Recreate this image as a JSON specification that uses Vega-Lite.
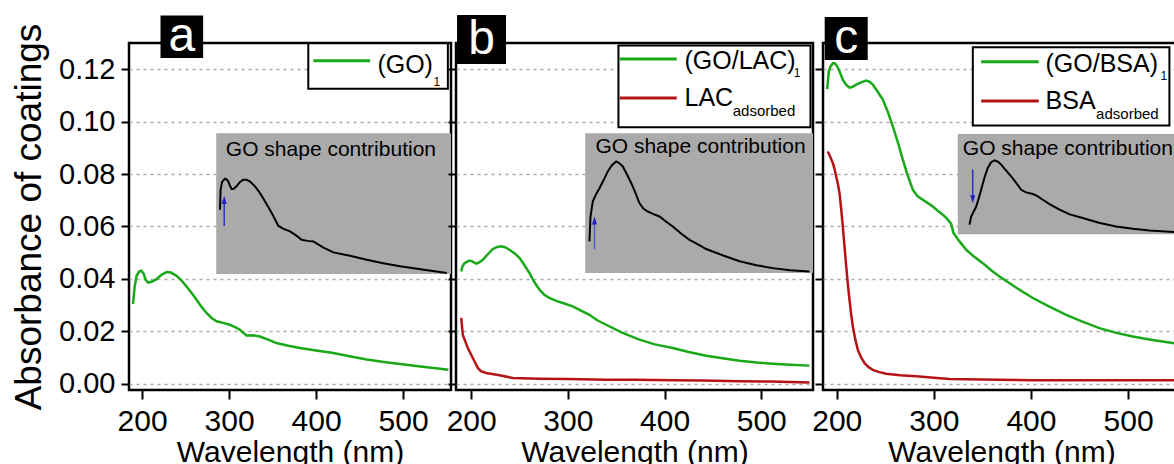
{
  "$schema": "https://vega.github.io/schema/vega-lite/v6.json",
  "autosize": "none",
  "padding": {"left": 129, "top": 43, "right": 1045, "bottom": 421},
  "config": {
    "font": "Liberation Sans",
    "view": {"stroke": "black", "strokeWidth": 2.5},
    "axis": {"labelColor": "black", "titleColor": "black", "tickColor": "black", "titleFontWeight": "normal", "domain": false, "tickWidth": 2},
    "axisX": {"grid": false, "tickSize": 9, "tickCount": 4, "labelFontSize": 30, "labelPadding": 7, "titleFontSize": 30, "titlePadding": 1, "labelFlush": false},
    "axisY": {"grid": true, "gridColor": "#aaaaaa", "gridDash": [3, 4], "gridWidth": 1.5, "tickSize": 8, "tickCount": 7, "format": ".2f", "labelFontSize": 29, "labelPadding": 6, "titleFontSize": 37, "titlePadding": 10}
  },
  "datasets": {
    "spectra": [
      {"panel":"a","series":"film","wl":189.6,"abs":0.0305},{"panel":"a","series":"film","wl":191.5,"abs":0.037},{"panel":"a","series":"film","wl":193.6,"abs":0.041},{"panel":"a","series":"film","wl":196.5,"abs":0.0428},{"panel":"a","series":"film","wl":199.3,"abs":0.0431},{"panel":"a","series":"film","wl":202,"abs":0.0418},{"panel":"a","series":"film","wl":204,"abs":0.0397},{"panel":"a","series":"film","wl":206.9,"abs":0.0386},{"panel":"a","series":"film","wl":211,"abs":0.0389},{"panel":"a","series":"film","wl":216.6,"abs":0.0399},{"panel":"a","series":"film","wl":222,"abs":0.0415},{"panel":"a","series":"film","wl":228.1,"abs":0.0426},{"panel":"a","series":"film","wl":233,"abs":0.0424},{"panel":"a","series":"film","wl":239.6,"abs":0.0412},{"panel":"a","series":"film","wl":245,"abs":0.0395},{"panel":"a","series":"film","wl":251.1,"abs":0.0371},{"panel":"a","series":"film","wl":257,"abs":0.0346},{"panel":"a","series":"film","wl":262.6,"abs":0.032},{"panel":"a","series":"film","wl":268,"abs":0.0295},{"panel":"a","series":"film","wl":274.1,"abs":0.027},{"panel":"a","series":"film","wl":280,"abs":0.0251},{"panel":"a","series":"film","wl":285.6,"abs":0.0238},{"panel":"a","series":"film","wl":293,"abs":0.0232},{"panel":"a","series":"film","wl":300.9,"abs":0.0225},{"panel":"a","series":"film","wl":307,"abs":0.0216},{"panel":"a","series":"film","wl":312.4,"abs":0.0206},{"panel":"a","series":"film","wl":316,"abs":0.0195},{"panel":"a","series":"film","wl":320.1,"abs":0.0184},{"panel":"a","series":"film","wl":327,"abs":0.0185},{"panel":"a","series":"film","wl":335.4,"abs":0.018},{"panel":"a","series":"film","wl":345,"abs":0.0168},{"panel":"a","series":"film","wl":354.6,"abs":0.0155},{"panel":"a","series":"film","wl":368,"abs":0.0145},{"panel":"a","series":"film","wl":381.5,"abs":0.0136},{"panel":"a","series":"film","wl":400,"abs":0.0127},{"panel":"a","series":"film","wl":419.8,"abs":0.0117},{"panel":"a","series":"film","wl":440,"abs":0.0104},{"panel":"a","series":"film","wl":458.2,"abs":0.0092},{"panel":"a","series":"film","wl":478,"abs":0.0083},{"panel":"a","series":"film","wl":496.5,"abs":0.0075},{"panel":"a","series":"film","wl":520,"abs":0.0066},{"panel":"a","series":"film","wl":540,"abs":0.0058},{"panel":"a","series":"film","wl":552,"abs":0.0053},
      {"panel":"b","series":"film","wl":189.7,"abs":0.0428},{"panel":"b","series":"film","wl":191,"abs":0.0448},{"panel":"b","series":"film","wl":193.1,"abs":0.046},{"panel":"b","series":"film","wl":198.2,"abs":0.047},{"panel":"b","series":"film","wl":201,"abs":0.0467},{"panel":"b","series":"film","wl":205.2,"abs":0.0458},{"panel":"b","series":"film","wl":208,"abs":0.0462},{"panel":"b","series":"film","wl":212,"abs":0.0473},{"panel":"b","series":"film","wl":217,"abs":0.0493},{"panel":"b","series":"film","wl":222.3,"abs":0.0514},{"panel":"b","series":"film","wl":227,"abs":0.0522},{"panel":"b","series":"film","wl":231,"abs":0.0524},{"panel":"b","series":"film","wl":235,"abs":0.0521},{"panel":"b","series":"film","wl":239.6,"abs":0.0511},{"panel":"b","series":"film","wl":245,"abs":0.0497},{"panel":"b","series":"film","wl":249.9,"abs":0.048},{"panel":"b","series":"film","wl":255,"abs":0.0453},{"panel":"b","series":"film","wl":260.3,"abs":0.0422},{"panel":"b","series":"film","wl":265,"abs":0.039},{"panel":"b","series":"film","wl":270.6,"abs":0.0359},{"panel":"b","series":"film","wl":276,"abs":0.0338},{"panel":"b","series":"film","wl":281,"abs":0.0327},{"panel":"b","series":"film","wl":288,"abs":0.0316},{"panel":"b","series":"film","wl":294.7,"abs":0.0308},{"panel":"b","series":"film","wl":305.1,"abs":0.0295},{"panel":"b","series":"film","wl":313,"abs":0.028},{"panel":"b","series":"film","wl":322.3,"abs":0.0263},{"panel":"b","series":"film","wl":330,"abs":0.0243},{"panel":"b","series":"film","wl":339.6,"abs":0.0225},{"panel":"b","series":"film","wl":356,"abs":0.0195},{"panel":"b","series":"film","wl":374,"abs":0.0168},{"panel":"b","series":"film","wl":390,"abs":0.015},{"panel":"b","series":"film","wl":408.5,"abs":0.0136},{"panel":"b","series":"film","wl":425,"abs":0.0121},{"panel":"b","series":"film","wl":443,"abs":0.0107},{"panel":"b","series":"film","wl":460,"abs":0.0097},{"panel":"b","series":"film","wl":477.5,"abs":0.0088},{"panel":"b","series":"film","wl":495,"abs":0.0081},{"panel":"b","series":"film","wl":511.9,"abs":0.0076},{"panel":"b","series":"film","wl":530,"abs":0.0072},{"panel":"b","series":"film","wl":549.8,"abs":0.0069},
      {"panel":"b","series":"adsorbed","wl":189.7,"abs":0.0251},{"panel":"b","series":"adsorbed","wl":191.3,"abs":0.0187},{"panel":"b","series":"adsorbed","wl":196.5,"abs":0.0136},{"panel":"b","series":"adsorbed","wl":201.7,"abs":0.0098},{"panel":"b","series":"adsorbed","wl":206.9,"abs":0.006},{"panel":"b","series":"adsorbed","wl":210,"abs":0.0048},{"panel":"b","series":"adsorbed","wl":215.5,"abs":0.0041},{"panel":"b","series":"adsorbed","wl":229.3,"abs":0.0032},{"panel":"b","series":"adsorbed","wl":243,"abs":0.0022},{"panel":"b","series":"adsorbed","wl":270.6,"abs":0.0019},{"panel":"b","series":"adsorbed","wl":300,"abs":0.0018},{"panel":"b","series":"adsorbed","wl":339.6,"abs":0.0015},{"panel":"b","series":"adsorbed","wl":370,"abs":0.0015},{"panel":"b","series":"adsorbed","wl":408.5,"abs":0.0013},{"panel":"b","series":"adsorbed","wl":440,"abs":0.0012},{"panel":"b","series":"adsorbed","wl":477.5,"abs":0.0009},{"panel":"b","series":"adsorbed","wl":510,"abs":0.0008},{"panel":"b","series":"adsorbed","wl":549.8,"abs":0.0005},
      {"panel":"c","series":"film","wl":190.1,"abs":0.1124},{"panel":"c","series":"film","wl":191.8,"abs":0.1192},{"panel":"c","series":"film","wl":193.5,"abs":0.121},{"panel":"c","series":"film","wl":195.9,"abs":0.1223},{"panel":"c","series":"film","wl":197.5,"abs":0.1223},{"panel":"c","series":"film","wl":199.4,"abs":0.1217},{"panel":"c","series":"film","wl":202.5,"abs":0.1195},{"panel":"c","series":"film","wl":206.2,"abs":0.116},{"panel":"c","series":"film","wl":209.5,"abs":0.1141},{"panel":"c","series":"film","wl":213.1,"abs":0.113},{"panel":"c","series":"film","wl":216.5,"abs":0.1133},{"panel":"c","series":"film","wl":220,"abs":0.1141},{"panel":"c","series":"film","wl":225,"abs":0.115},{"panel":"c","series":"film","wl":230.3,"abs":0.1157},{"panel":"c","series":"film","wl":234,"abs":0.1152},{"panel":"c","series":"film","wl":237.1,"abs":0.1141},{"panel":"c","series":"film","wl":242,"abs":0.1115},{"panel":"c","series":"film","wl":247.4,"abs":0.1084},{"panel":"c","series":"film","wl":252.5,"abs":0.1038},{"panel":"c","series":"film","wl":257.7,"abs":0.0982},{"panel":"c","series":"film","wl":263,"abs":0.092},{"panel":"c","series":"film","wl":268,"abs":0.0855},{"panel":"c","series":"film","wl":273,"abs":0.0795},{"panel":"c","series":"film","wl":278.3,"abs":0.074},{"panel":"c","series":"film","wl":283,"abs":0.0716},{"panel":"c","series":"film","wl":288.6,"abs":0.0702},{"panel":"c","series":"film","wl":293.5,"abs":0.069},{"panel":"c","series":"film","wl":298.9,"abs":0.0676},{"panel":"c","series":"film","wl":304,"abs":0.066},{"panel":"c","series":"film","wl":309.2,"abs":0.0645},{"panel":"c","series":"film","wl":313.5,"abs":0.063},{"panel":"c","series":"film","wl":317.8,"abs":0.061},{"panel":"c","series":"film","wl":320.2,"abs":0.0575},{"panel":"c","series":"film","wl":326,"abs":0.0545},{"panel":"c","series":"film","wl":333.3,"abs":0.0511},{"panel":"c","series":"film","wl":341,"abs":0.0486},{"panel":"c","series":"film","wl":350.4,"abs":0.046},{"panel":"c","series":"film","wl":359,"abs":0.0433},{"panel":"c","series":"film","wl":367.6,"abs":0.0409},{"panel":"c","series":"film","wl":385,"abs":0.0366},{"panel":"c","series":"film","wl":401.9,"abs":0.0327},{"panel":"c","series":"film","wl":419,"abs":0.0294},{"panel":"c","series":"film","wl":436.3,"abs":0.0263},{"panel":"c","series":"film","wl":453,"abs":0.0237},{"panel":"c","series":"film","wl":470.5,"abs":0.0212},{"panel":"c","series":"film","wl":487,"abs":0.0195},{"panel":"c","series":"film","wl":504.8,"abs":0.018},{"panel":"c","series":"film","wl":525,"abs":0.0167},{"panel":"c","series":"film","wl":546,"abs":0.0155},{"panel":"c","series":"film","wl":553,"abs":0.0152},
      {"panel":"c","series":"adsorbed","wl":190.7,"abs":0.0886},{"panel":"c","series":"adsorbed","wl":193,"abs":0.0868},{"panel":"c","series":"adsorbed","wl":195.9,"abs":0.0842},{"panel":"c","series":"adsorbed","wl":197.8,"abs":0.0818},{"panel":"c","series":"adsorbed","wl":199.4,"abs":0.0791},{"panel":"c","series":"adsorbed","wl":201,"abs":0.0765},{"panel":"c","series":"adsorbed","wl":202.8,"abs":0.0728},{"panel":"c","series":"adsorbed","wl":204.5,"abs":0.0668},{"panel":"c","series":"adsorbed","wl":206.2,"abs":0.06},{"panel":"c","series":"adsorbed","wl":208,"abs":0.0522},{"panel":"c","series":"adsorbed","wl":209.7,"abs":0.0448},{"panel":"c","series":"adsorbed","wl":211.4,"abs":0.038},{"panel":"c","series":"adsorbed","wl":213.1,"abs":0.032},{"panel":"c","series":"adsorbed","wl":214.8,"abs":0.0265},{"panel":"c","series":"adsorbed","wl":216.5,"abs":0.0219},{"panel":"c","series":"adsorbed","wl":219,"abs":0.017},{"panel":"c","series":"adsorbed","wl":221.6,"abs":0.013},{"panel":"c","series":"adsorbed","wl":225,"abs":0.01},{"panel":"c","series":"adsorbed","wl":228.5,"abs":0.0079},{"panel":"c","series":"adsorbed","wl":232.5,"abs":0.0064},{"panel":"c","series":"adsorbed","wl":237.1,"abs":0.0053},{"panel":"c","series":"adsorbed","wl":243,"abs":0.0045},{"panel":"c","series":"adsorbed","wl":250.9,"abs":0.0038},{"panel":"c","series":"adsorbed","wl":265,"abs":0.0032},{"panel":"c","series":"adsorbed","wl":281.8,"abs":0.0028},{"panel":"c","series":"adsorbed","wl":300,"abs":0.0023},{"panel":"c","series":"adsorbed","wl":316.1,"abs":0.0018},{"panel":"c","series":"adsorbed","wl":350,"abs":0.0016},{"panel":"c","series":"adsorbed","wl":401.9,"abs":0.0013},{"panel":"c","series":"adsorbed","wl":450,"abs":0.0013},{"panel":"c","series":"adsorbed","wl":500,"abs":0.0013},{"panel":"c","series":"adsorbed","wl":553,"abs":0.0013}
    ],
    "inset": [
      {"panel":"a","wl":289.6,"abs":0.0664},{"panel":"a","wl":290.2,"abs":0.074},{"panel":"a","wl":292,"abs":0.077},{"panel":"a","wl":295.2,"abs":0.0782},{"panel":"a","wl":297,"abs":0.078},{"panel":"a","wl":299,"abs":0.0772},{"panel":"a","wl":301,"abs":0.0755},{"panel":"a","wl":302.9,"abs":0.0743},{"panel":"a","wl":305,"abs":0.0743},{"panel":"a","wl":308.6,"abs":0.0753},{"panel":"a","wl":312,"abs":0.0768},{"panel":"a","wl":316.2,"abs":0.0778},{"panel":"a","wl":320,"abs":0.0778},{"panel":"a","wl":323.9,"abs":0.0772},{"panel":"a","wl":330,"abs":0.0752},{"panel":"a","wl":335.4,"abs":0.0728},{"panel":"a","wl":341,"abs":0.0697},{"panel":"a","wl":346.9,"abs":0.0664},{"panel":"a","wl":352,"abs":0.0632},{"panel":"a","wl":356.5,"abs":0.0603},{"panel":"a","wl":362,"abs":0.0592},{"panel":"a","wl":370,"abs":0.0581},{"panel":"a","wl":377,"abs":0.0566},{"panel":"a","wl":383.4,"abs":0.0549},{"panel":"a","wl":390,"abs":0.0545},{"panel":"a","wl":396.8,"abs":0.0543},{"panel":"a","wl":408,"abs":0.052},{"panel":"a","wl":419.8,"abs":0.0501},{"panel":"a","wl":439,"abs":0.0488},{"panel":"a","wl":458.2,"abs":0.0473},{"panel":"a","wl":477,"abs":0.046},{"panel":"a","wl":496.5,"abs":0.0448},{"panel":"a","wl":520,"abs":0.0437},{"panel":"a","wl":550.3,"abs":0.0422},
      {"panel":"b","wl":322.3,"abs":0.0543},{"panel":"b","wl":323.4,"abs":0.0638},{"panel":"b","wl":325.8,"abs":0.0696},{"panel":"b","wl":329,"abs":0.0722},{"panel":"b","wl":332.7,"abs":0.0746},{"panel":"b","wl":337,"abs":0.0777},{"panel":"b","wl":341.3,"abs":0.081},{"panel":"b","wl":345.5,"abs":0.0834},{"panel":"b","wl":350,"abs":0.0848},{"panel":"b","wl":353,"abs":0.0842},{"panel":"b","wl":356.8,"abs":0.0829},{"panel":"b","wl":361,"abs":0.0799},{"panel":"b","wl":365.5,"abs":0.0766},{"panel":"b","wl":370,"abs":0.0727},{"panel":"b","wl":374,"abs":0.0689},{"panel":"b","wl":378,"abs":0.0668},{"panel":"b","wl":382.7,"abs":0.0657},{"panel":"b","wl":388,"abs":0.0648},{"panel":"b","wl":394.7,"abs":0.0638},{"panel":"b","wl":401,"abs":0.062},{"panel":"b","wl":408.5,"abs":0.06},{"panel":"b","wl":417,"abs":0.0573},{"panel":"b","wl":425.8,"abs":0.0549},{"panel":"b","wl":435,"abs":0.0531},{"panel":"b","wl":443,"abs":0.0514},{"panel":"b","wl":460,"abs":0.049},{"panel":"b","wl":477.5,"abs":0.0467},{"panel":"b","wl":495,"abs":0.0452},{"panel":"b","wl":511.9,"abs":0.0441},{"panel":"b","wl":530,"abs":0.0433},{"panel":"b","wl":549.8,"abs":0.0428},
      {"panel":"c","wl":336.7,"abs":0.0607},{"panel":"c","wl":338.4,"abs":0.0638},{"panel":"c","wl":343.6,"abs":0.0676},{"panel":"c","wl":346,"abs":0.0705},{"panel":"c","wl":348.7,"abs":0.074},{"panel":"c","wl":352,"abs":0.0785},{"panel":"c","wl":355.5,"abs":0.0823},{"panel":"c","wl":359,"abs":0.0845},{"panel":"c","wl":362.4,"abs":0.0852},{"panel":"c","wl":366,"abs":0.0847},{"panel":"c","wl":369.3,"abs":0.0836},{"panel":"c","wl":374,"abs":0.0815},{"panel":"c","wl":379.6,"abs":0.0791},{"panel":"c","wl":385,"abs":0.0765},{"panel":"c","wl":389.9,"abs":0.074},{"panel":"c","wl":395,"abs":0.073},{"panel":"c","wl":401.9,"abs":0.0724},{"panel":"c","wl":407,"abs":0.0715},{"panel":"c","wl":412.2,"abs":0.0702},{"panel":"c","wl":420,"abs":0.0683},{"panel":"c","wl":429.4,"abs":0.0664},{"panel":"c","wl":440,"abs":0.0646},{"panel":"c","wl":453.3,"abs":0.0632},{"panel":"c","wl":470,"abs":0.0614},{"panel":"c","wl":487.7,"abs":0.06},{"panel":"c","wl":505,"abs":0.0591},{"panel":"c","wl":522,"abs":0.0585},{"panel":"c","wl":546.8,"abs":0.0579},{"panel":"c","wl":553,"abs":0.0578}
    ]
  },
  "bounds": "flush",
  "spacing": 5,
  "hconcat": [
    {
      "width": 322,
      "height": 347,
      "layer": [
        {"data": {"values": [{}]}, "mark": {"type": "rect", "fill": "#aaaaaa"},
         "encoding": {"x": {"datum": 285.2, "type": "quantitative", "scale": {"domain": [185, 555], "nice": false, "zero": false}, "axis": {"title": "Wavelength (nm)"}}, "x2": {"datum": 555},
                      "y": {"datum": 0.0956, "type": "quantitative", "scale": {"domain": [-0.0024, 0.13], "nice": false, "zero": false}, "axis": {"title": "Absorbance of coatings"}}, "y2": {"datum": 0.0419}}},
        {"data": {"name": "inset"}, "transform": [{"filter": "datum.panel === 'a'"}], "mark": {"type": "line", "stroke": "black", "strokeWidth": 2},
         "encoding": {"x": {"field": "wl", "type": "quantitative", "scale": {"domain": [185, 555], "nice": false, "zero": false}, "axis": {"title": "Wavelength (nm)"}},
                      "y": {"field": "abs", "type": "quantitative", "scale": {"domain": [-0.0024, 0.13], "nice": false, "zero": false}, "axis": {"title": "Absorbance of coatings"}}}},
        {"data": {"values": [{}]}, "mark": {"type": "rule", "stroke": "#2f2fc4", "strokeWidth": 1.5},
         "encoding": {"x": {"datum": 294.4, "type": "quantitative", "scale": {"domain": [185, 555], "nice": false, "zero": false}, "axis": {"title": "Wavelength (nm)"}},
                      "y": {"datum": 0.0602, "type": "quantitative", "scale": {"domain": [-0.0024, 0.13], "nice": false, "zero": false}, "axis": {"title": "Absorbance of coatings"}}, "y2": {"datum": 0.0696}}},
        {"data": {"values": [{}]}, "mark": {"type": "point", "shape": "M0,0L1,3.2L-1,3.2Z", "size": 25, "filled": true, "color": "#2020c0", "opacity": 1},
         "encoding": {"x": {"datum": 294.4, "type": "quantitative", "scale": {"domain": [185, 555], "nice": false, "zero": false}, "axis": {"title": "Wavelength (nm)"}},
                      "y": {"datum": 0.0716, "type": "quantitative", "scale": {"domain": [-0.0024, 0.13], "nice": false, "zero": false}, "axis": {"title": "Absorbance of coatings"}}}},
        {"data": {"values": [{}]}, "mark": {"type": "text", "align": "left", "baseline": "alphabetic", "fontSize": 21, "color": "black"},
         "encoding": {"x": {"datum": 296.3, "type": "quantitative", "scale": {"domain": [185, 555], "nice": false, "zero": false}, "axis": {"title": "Wavelength (nm)"}},
                      "y": {"datum": 0.0867, "type": "quantitative", "scale": {"domain": [-0.0024, 0.13], "nice": false, "zero": false}, "axis": {"title": "Absorbance of coatings"}},
                      "text": {"value": "GO shape contribution"}}},
        {"data": {"name": "spectra"}, "transform": [{"filter": "datum.panel === 'a'"}], "mark": {"type": "line", "strokeWidth": 2.5},
         "encoding": {
           "x": {"field": "wl", "type": "quantitative", "scale": {"domain": [185, 555], "nice": false, "zero": false}, "axis": {"title": "Wavelength (nm)"}},
           "y": {"field": "abs", "type": "quantitative", "scale": {"domain": [-0.0024, 0.13], "nice": false, "zero": false}, "axis": {"title": "Absorbance of coatings"}},
           "color": {"field": "series", "type": "nominal", "scale": {"domain": ["film", "adsorbed"], "range": ["#18a818", "#b41414"]}, "legend": null}}},
        {"data": {"values": [{}]}, "mark": {"type": "rect", "fill": "white", "stroke": "black", "strokeWidth": 2},
         "encoding": {"x": {"datum": 391, "type": "quantitative", "scale": {"domain": [185, 555], "nice": false, "zero": false}, "axis": {"title": "Wavelength (nm)"}}, "x2": {"datum": 551.4},
                      "y": {"datum": 0.1299, "type": "quantitative", "scale": {"domain": [-0.0024, 0.13], "nice": false, "zero": false}, "axis": {"title": "Absorbance of coatings"}}, "y2": {"datum": 0.1125}}},
        {"data": {"values": [{}]}, "mark": {"type": "rule", "stroke": "#18a818", "strokeWidth": 3},
         "encoding": {"x": {"datum": 396.8, "type": "quantitative", "scale": {"domain": [185, 555], "nice": false, "zero": false}, "axis": {"title": "Wavelength (nm)"}}, "x2": {"datum": 462.1},
                      "y": {"datum": 0.1232, "type": "quantitative", "scale": {"domain": [-0.0024, 0.13], "nice": false, "zero": false}, "axis": {"title": "Absorbance of coatings"}}}},
        {"data": {"values": [{}]}, "mark": {"type": "text", "align": "left", "baseline": "alphabetic", "fontSize": 25, "color": "black"},
         "encoding": {"x": {"datum": 470.4, "type": "quantitative", "scale": {"domain": [185, 555], "nice": false, "zero": false}, "axis": {"title": "Wavelength (nm)"}},
                      "y": {"datum": 0.1185, "type": "quantitative", "scale": {"domain": [-0.0024, 0.13], "nice": false, "zero": false}, "axis": {"title": "Absorbance of coatings"}},
                      "text": {"value": "(GO)"}}},
        {"data": {"values": [{}]}, "mark": {"type": "text", "align": "left", "baseline": "alphabetic", "fontSize": 12, "color": "black"},
         "encoding": {"x": {"datum": 534.9, "type": "quantitative", "scale": {"domain": [185, 555], "nice": false, "zero": false}, "axis": {"title": "Wavelength (nm)"}},
                      "y": {"datum": 0.1137, "type": "quantitative", "scale": {"domain": [-0.0024, 0.13], "nice": false, "zero": false}, "axis": {"title": "Absorbance of coatings"}},
                      "text": {"value": "1"}}},
        {"data": {"values": [{}]}, "mark": {"type": "square", "size": 1815, "filled": true, "color": "black", "opacity": 1},
         "encoding": {"x": {"datum": 245.7, "type": "quantitative", "scale": {"domain": [185, 555], "nice": false, "zero": false}, "axis": {"title": "Wavelength (nm)"}},
                      "y": {"datum": 0.1324, "type": "quantitative", "scale": {"domain": [-0.0024, 0.13], "nice": false, "zero": false}, "axis": {"title": "Absorbance of coatings"}}}},
        {"data": {"values": [{}]}, "mark": {"type": "text", "align": "center", "baseline": "middle", "fontSize": 48, "color": "white"},
         "encoding": {"x": {"datum": 245.7, "type": "quantitative", "scale": {"domain": [185, 555], "nice": false, "zero": false}, "axis": {"title": "Wavelength (nm)"}},
                      "y": {"datum": 0.1324, "type": "quantitative", "scale": {"domain": [-0.0024, 0.13], "nice": false, "zero": false}, "axis": {"title": "Absorbance of coatings"}},
                      "text": {"value": "a"}}}
      ]
    },
    {
      "bounds": "flush",
      "spacing": 10,
      "hconcat": [
        {
          "width": 357,
          "height": 347,
          "layer": [
            {"data": {"values": [{}]}, "mark": {"type": "rect", "fill": "#aaaaaa"},
             "encoding": {"x": {"datum": 317.9, "type": "quantitative", "scale": {"domain": [184.3, 553.5], "nice": false, "zero": false}, "axis": {"title": "Wavelength (nm)"}}, "x2": {"datum": 553.5},
                          "y": {"datum": 0.0956, "type": "quantitative", "scale": {"domain": [-0.0024, 0.13], "nice": false, "zero": false}, "axis": {"title": null, "labels": false}}, "y2": {"datum": 0.0422}}},
            {"data": {"name": "inset"}, "transform": [{"filter": "datum.panel === 'b'"}], "mark": {"type": "line", "stroke": "black", "strokeWidth": 2},
             "encoding": {"x": {"field": "wl", "type": "quantitative", "scale": {"domain": [184.3, 553.5], "nice": false, "zero": false}, "axis": {"title": "Wavelength (nm)"}},
                          "y": {"field": "abs", "type": "quantitative", "scale": {"domain": [-0.0024, 0.13], "nice": false, "zero": false}, "axis": {"title": null, "labels": false}}}},
            {"data": {"values": [{}]}, "mark": {"type": "rule", "stroke": "#5a5ad0", "strokeWidth": 1.5},
             "encoding": {"x": {"datum": 327.5, "type": "quantitative", "scale": {"domain": [184.3, 553.5], "nice": false, "zero": false}, "axis": {"title": "Wavelength (nm)"}},
                          "y": {"datum": 0.0513, "type": "quantitative", "scale": {"domain": [-0.0024, 0.13], "nice": false, "zero": false}, "axis": {"title": null, "labels": false}}, "y2": {"datum": 0.0617}}},
            {"data": {"values": [{}]}, "mark": {"type": "point", "shape": "M0,0L1,3.2L-1,3.2Z", "size": 25, "filled": true, "color": "#2020c0", "opacity": 1},
             "encoding": {"x": {"datum": 327.5, "type": "quantitative", "scale": {"domain": [184.3, 553.5], "nice": false, "zero": false}, "axis": {"title": "Wavelength (nm)"}},
                          "y": {"datum": 0.0638, "type": "quantitative", "scale": {"domain": [-0.0024, 0.13], "nice": false, "zero": false}, "axis": {"title": null, "labels": false}}}},
            {"data": {"values": [{}]}, "mark": {"type": "text", "align": "left", "baseline": "alphabetic", "fontSize": 21, "color": "black"},
             "encoding": {"x": {"datum": 328.5, "type": "quantitative", "scale": {"domain": [184.3, 553.5], "nice": false, "zero": false}, "axis": {"title": "Wavelength (nm)"}},
                          "y": {"datum": 0.088, "type": "quantitative", "scale": {"domain": [-0.0024, 0.13], "nice": false, "zero": false}, "axis": {"title": null, "labels": false}},
                          "text": {"value": "GO shape contribution"}}},
            {"data": {"name": "spectra"}, "transform": [{"filter": "datum.panel === 'b'"}], "mark": {"type": "line", "strokeWidth": 2.5},
             "encoding": {
               "x": {"field": "wl", "type": "quantitative", "scale": {"domain": [184.3, 553.5], "nice": false, "zero": false}, "axis": {"title": "Wavelength (nm)"}},
               "y": {"field": "abs", "type": "quantitative", "scale": {"domain": [-0.0024, 0.13], "nice": false, "zero": false}, "axis": {"title": null, "labels": false}},
               "color": {"field": "series", "type": "nominal", "scale": {"domain": ["film", "adsorbed"], "range": ["#18a818", "#b41414"]}, "legend": null}}},
            {"data": {"values": [{}]}, "mark": {"type": "rect", "fill": "white", "stroke": "black", "strokeWidth": 2},
             "encoding": {"x": {"datum": 352.3, "type": "quantitative", "scale": {"domain": [184.3, 553.5], "nice": false, "zero": false}, "axis": {"title": "Wavelength (nm)"}}, "x2": {"datum": 550.9},
                          "y": {"datum": 0.129, "type": "quantitative", "scale": {"domain": [-0.0024, 0.13], "nice": false, "zero": false}, "axis": {"title": null, "labels": false}}, "y2": {"datum": 0.0979}}},
            {"data": {"values": [{}]}, "mark": {"type": "rule", "stroke": "#18a818", "strokeWidth": 3},
             "encoding": {"x": {"datum": 353.4, "type": "quantitative", "scale": {"domain": [184.3, 553.5], "nice": false, "zero": false}, "axis": {"title": "Wavelength (nm)"}}, "x2": {"datum": 412.6},
                          "y": {"datum": 0.1239, "type": "quantitative", "scale": {"domain": [-0.0024, 0.13], "nice": false, "zero": false}, "axis": {"title": null, "labels": false}}}},
            {"data": {"values": [{}]}, "mark": {"type": "rule", "stroke": "#b41414", "strokeWidth": 3},
             "encoding": {"x": {"datum": 353.4, "type": "quantitative", "scale": {"domain": [184.3, 553.5], "nice": false, "zero": false}, "axis": {"title": "Wavelength (nm)"}}, "x2": {"datum": 412.6},
                          "y": {"datum": 0.109, "type": "quantitative", "scale": {"domain": [-0.0024, 0.13], "nice": false, "zero": false}, "axis": {"title": null, "labels": false}}}},
            {"data": {"values": [{}]}, "mark": {"type": "text", "align": "left", "baseline": "alphabetic", "fontSize": 25, "color": "black"},
             "encoding": {"x": {"datum": 420.6, "type": "quantitative", "scale": {"domain": [184.3, 553.5], "nice": false, "zero": false}, "axis": {"title": "Wavelength (nm)"}},
                          "y": {"datum": 0.12, "type": "quantitative", "scale": {"domain": [-0.0024, 0.13], "nice": false, "zero": false}, "axis": {"title": null, "labels": false}},
                          "text": {"value": "(GO/LAC)"}}},
            {"data": {"values": [{}]}, "mark": {"type": "text", "align": "left", "baseline": "alphabetic", "fontSize": 12, "color": "black"},
             "encoding": {"x": {"datum": 533.5, "type": "quantitative", "scale": {"domain": [184.3, 553.5], "nice": false, "zero": false}, "axis": {"title": "Wavelength (nm)"}},
                          "y": {"datum": 0.1172, "type": "quantitative", "scale": {"domain": [-0.0024, 0.13], "nice": false, "zero": false}, "axis": {"title": null, "labels": false}},
                          "text": {"value": "1"}}},
            {"data": {"values": [{}]}, "mark": {"type": "text", "align": "left", "baseline": "alphabetic", "fontSize": 25, "color": "black"},
             "encoding": {"x": {"datum": 420.6, "type": "quantitative", "scale": {"domain": [184.3, 553.5], "nice": false, "zero": false}, "axis": {"title": "Wavelength (nm)"}},
                          "y": {"datum": 0.1058, "type": "quantitative", "scale": {"domain": [-0.0024, 0.13], "nice": false, "zero": false}, "axis": {"title": null, "labels": false}},
                          "text": {"value": "LAC"}}},
            {"data": {"values": [{}]}, "mark": {"type": "text", "align": "left", "baseline": "alphabetic", "fontSize": 15, "color": "black"},
             "encoding": {"x": {"datum": 470.5, "type": "quantitative", "scale": {"domain": [184.3, 553.5], "nice": false, "zero": false}, "axis": {"title": "Wavelength (nm)"}},
                          "y": {"datum": 0.102, "type": "quantitative", "scale": {"domain": [-0.0024, 0.13], "nice": false, "zero": false}, "axis": {"title": null, "labels": false}},
                          "text": {"value": "adsorbed"}}},
            {"data": {"values": [{}]}, "mark": {"type": "square", "size": 2400, "filled": true, "color": "black", "opacity": 1},
             "encoding": {"x": {"datum": 210.7, "type": "quantitative", "scale": {"domain": [184.3, 553.5], "nice": false, "zero": false}, "axis": {"title": "Wavelength (nm)"}},
                          "y": {"datum": 0.1313, "type": "quantitative", "scale": {"domain": [-0.0024, 0.13], "nice": false, "zero": false}, "axis": {"title": null, "labels": false}}}},
            {"data": {"values": [{}]}, "mark": {"type": "text", "align": "center", "baseline": "middle", "fontSize": 48, "color": "white"},
             "encoding": {"x": {"datum": 210.7, "type": "quantitative", "scale": {"domain": [184.3, 553.5], "nice": false, "zero": false}, "axis": {"title": "Wavelength (nm)"}},
                          "y": {"datum": 0.1313, "type": "quantitative", "scale": {"domain": [-0.0024, 0.13], "nice": false, "zero": false}, "axis": {"title": null, "labels": false}},
                          "text": {"value": "b"}}}
          ]
        },
        {
          "width": 357,
          "height": 347,
          "layer": [
            {"data": {"values": [{}]}, "mark": {"type": "rect", "fill": "#aaaaaa"},
             "encoding": {"x": {"datum": 324.6, "type": "quantitative", "scale": {"domain": [185.8, 553.5], "nice": false, "zero": false}, "axis": {"title": "Wavelength (nm)"}}, "x2": {"datum": 553.5},
                          "y": {"datum": 0.0953, "type": "quantitative", "scale": {"domain": [-0.0024, 0.13], "nice": false, "zero": false}, "axis": {"title": null, "labels": false}}, "y2": {"datum": 0.057}}},
            {"data": {"name": "inset"}, "transform": [{"filter": "datum.panel === 'c'"}], "mark": {"type": "line", "stroke": "black", "strokeWidth": 2},
             "encoding": {"x": {"field": "wl", "type": "quantitative", "scale": {"domain": [185.8, 553.5], "nice": false, "zero": false}, "axis": {"title": "Wavelength (nm)"}},
                          "y": {"field": "abs", "type": "quantitative", "scale": {"domain": [-0.0024, 0.13], "nice": false, "zero": false}, "axis": {"title": null, "labels": false}}}},
            {"data": {"values": [{}]}, "mark": {"type": "rule", "stroke": "#2f2fc4", "strokeWidth": 1.5},
             "encoding": {"x": {"datum": 340, "type": "quantitative", "scale": {"domain": [185.8, 553.5], "nice": false, "zero": false}, "axis": {"title": "Wavelength (nm)"}},
                          "y": {"datum": 0.0817, "type": "quantitative", "scale": {"domain": [-0.0024, 0.13], "nice": false, "zero": false}, "axis": {"title": null, "labels": false}}, "y2": {"datum": 0.071}}},
            {"data": {"values": [{}]}, "mark": {"type": "point", "shape": "M0,0L1,-3.2L-1,-3.2Z", "size": 25, "filled": true, "color": "#2020c0", "opacity": 1},
             "encoding": {"x": {"datum": 340, "type": "quantitative", "scale": {"domain": [185.8, 553.5], "nice": false, "zero": false}, "axis": {"title": "Wavelength (nm)"}},
                          "y": {"datum": 0.0689, "type": "quantitative", "scale": {"domain": [-0.0024, 0.13], "nice": false, "zero": false}, "axis": {"title": null, "labels": false}}}},
            {"data": {"values": [{}]}, "mark": {"type": "text", "align": "left", "baseline": "alphabetic", "fontSize": 21, "color": "black"},
             "encoding": {"x": {"datum": 329.8, "type": "quantitative", "scale": {"domain": [185.8, 553.5], "nice": false, "zero": false}, "axis": {"title": "Wavelength (nm)"}},
                          "y": {"datum": 0.0873, "type": "quantitative", "scale": {"domain": [-0.0024, 0.13], "nice": false, "zero": false}, "axis": {"title": null, "labels": false}},
                          "text": {"value": "GO shape contribution"}}},
            {"data": {"name": "spectra"}, "transform": [{"filter": "datum.panel === 'c'"}], "mark": {"type": "line", "strokeWidth": 2.5},
             "encoding": {
               "x": {"field": "wl", "type": "quantitative", "scale": {"domain": [185.8, 553.5], "nice": false, "zero": false}, "axis": {"title": "Wavelength (nm)"}},
               "y": {"field": "abs", "type": "quantitative", "scale": {"domain": [-0.0024, 0.13], "nice": false, "zero": false}, "axis": {"title": null, "labels": false}},
               "color": {"field": "series", "type": "nominal", "scale": {"domain": ["film", "adsorbed"], "range": ["#18a818", "#b41414"]}, "legend": null}}},
            {"data": {"values": [{}]}, "mark": {"type": "rect", "fill": "white", "stroke": "black", "strokeWidth": 2},
             "encoding": {"x": {"datum": 340.1, "type": "quantitative", "scale": {"domain": [185.8, 553.5], "nice": false, "zero": false}, "axis": {"title": "Wavelength (nm)"}}, "x2": {"datum": 542.6},
                          "y": {"datum": 0.1284, "type": "quantitative", "scale": {"domain": [-0.0024, 0.13], "nice": false, "zero": false}, "axis": {"title": null, "labels": false}}, "y2": {"datum": 0.0985}}},
            {"data": {"values": [{}]}, "mark": {"type": "rule", "stroke": "#18a818", "strokeWidth": 3},
             "encoding": {"x": {"datum": 348.7, "type": "quantitative", "scale": {"domain": [185.8, 553.5], "nice": false, "zero": false}, "axis": {"title": "Wavelength (nm)"}}, "x2": {"datum": 408},
                          "y": {"datum": 0.1228, "type": "quantitative", "scale": {"domain": [-0.0024, 0.13], "nice": false, "zero": false}, "axis": {"title": null, "labels": false}}}},
            {"data": {"values": [{}]}, "mark": {"type": "rule", "stroke": "#b41414", "strokeWidth": 3},
             "encoding": {"x": {"datum": 348.7, "type": "quantitative", "scale": {"domain": [185.8, 553.5], "nice": false, "zero": false}, "axis": {"title": "Wavelength (nm)"}}, "x2": {"datum": 408},
                          "y": {"datum": 0.1079, "type": "quantitative", "scale": {"domain": [-0.0024, 0.13], "nice": false, "zero": false}, "axis": {"title": null, "labels": false}}}},
            {"data": {"values": [{}]}, "mark": {"type": "text", "align": "left", "baseline": "alphabetic", "fontSize": 25, "color": "black"},
             "encoding": {"x": {"datum": 415, "type": "quantitative", "scale": {"domain": [185.8, 553.5], "nice": false, "zero": false}, "axis": {"title": "Wavelength (nm)"}},
                          "y": {"datum": 0.1191, "type": "quantitative", "scale": {"domain": [-0.0024, 0.13], "nice": false, "zero": false}, "axis": {"title": null, "labels": false}},
                          "text": {"value": "(GO/BSA)"}}},
            {"data": {"values": [{}]}, "mark": {"type": "text", "align": "left", "baseline": "alphabetic", "fontSize": 12, "color": "black"},
             "encoding": {"x": {"datum": 533.4, "type": "quantitative", "scale": {"domain": [185.8, 553.5], "nice": false, "zero": false}, "axis": {"title": "Wavelength (nm)"}},
                          "y": {"datum": 0.1159, "type": "quantitative", "scale": {"domain": [-0.0024, 0.13], "nice": false, "zero": false}, "axis": {"title": null, "labels": false}},
                          "text": {"value": "1"}}},
            {"data": {"values": [{}]}, "mark": {"type": "text", "align": "left", "baseline": "alphabetic", "fontSize": 25, "color": "black"},
             "encoding": {"x": {"datum": 415, "type": "quantitative", "scale": {"domain": [185.8, 553.5], "nice": false, "zero": false}, "axis": {"title": "Wavelength (nm)"}},
                          "y": {"datum": 0.1048, "type": "quantitative", "scale": {"domain": [-0.0024, 0.13], "nice": false, "zero": false}, "axis": {"title": null, "labels": false}},
                          "text": {"value": "BSA"}}},
            {"data": {"values": [{}]}, "mark": {"type": "text", "align": "left", "baseline": "alphabetic", "fontSize": 15, "color": "black"},
             "encoding": {"x": {"datum": 467.1, "type": "quantitative", "scale": {"domain": [185.8, 553.5], "nice": false, "zero": false}, "axis": {"title": "Wavelength (nm)"}},
                          "y": {"datum": 0.101, "type": "quantitative", "scale": {"domain": [-0.0024, 0.13], "nice": false, "zero": false}, "axis": {"title": null, "labels": false}},
                          "text": {"value": "adsorbed"}}},
            {"data": {"values": [{}]}, "mark": {"type": "square", "size": 1850, "filled": true, "color": "black", "opacity": 1},
             "encoding": {"x": {"datum": 209.7, "type": "quantitative", "scale": {"domain": [185.8, 553.5], "nice": false, "zero": false}, "axis": {"title": "Wavelength (nm)"}},
                          "y": {"datum": 0.1317, "type": "quantitative", "scale": {"domain": [-0.0024, 0.13], "nice": false, "zero": false}, "axis": {"title": null, "labels": false}}}},
            {"data": {"values": [{}]}, "mark": {"type": "text", "align": "center", "baseline": "middle", "fontSize": 48, "color": "white"},
             "encoding": {"x": {"datum": 209.7, "type": "quantitative", "scale": {"domain": [185.8, 553.5], "nice": false, "zero": false}, "axis": {"title": "Wavelength (nm)"}},
                          "y": {"datum": 0.1317, "type": "quantitative", "scale": {"domain": [-0.0024, 0.13], "nice": false, "zero": false}, "axis": {"title": null, "labels": false}},
                          "text": {"value": "c"}}}
          ]
        }
      ]
    }
  ]
}
